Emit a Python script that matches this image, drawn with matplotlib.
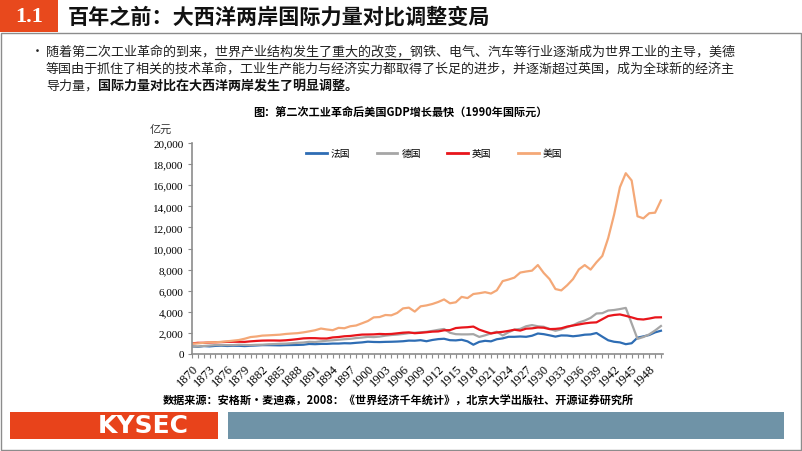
import matplotlib.pyplot as plt
from matplotlib.patches import Rectangle
from matplotlib.lines import Line2D

# data: GDP in 亿 1990 international dollars (Maddison)
years = list(range(1870, 1951))
france = [721, 680, 750, 720, 770, 790, 760, 780, 780, 750,
          780, 810, 840, 840, 830, 820, 840, 850, 860, 880,
          951, 930, 960, 960, 990, 990, 1020, 1010, 1060, 1100,
          1167, 1140, 1130, 1150, 1160, 1180, 1210, 1270, 1260, 1310,
          1210, 1330, 1410, 1445, 1310, 1290, 1350, 1200, 880, 1150,
          1250, 1200, 1400, 1480, 1630, 1630, 1660, 1630, 1730, 1942,
          1880, 1770, 1650, 1760, 1750, 1680, 1740, 1830, 1856, 1990,
          1640, 1300, 1160, 1100, 930, 1020, 1550, 1670, 1800, 2050,
          2205]
germany = [721, 710, 760, 800, 850, 850, 840, 840, 880, 860,
           840, 870, 880, 920, 940, 970, 980, 1020, 1060, 1090,
           1156, 1140, 1200, 1260, 1300, 1350, 1400, 1440, 1510, 1560,
           1623, 1600, 1650, 1740, 1800, 1840, 1900, 1980, 2020, 2060,
           2105, 2190, 2290, 2373, 2010, 1880, 1860, 1860, 1880, 1620,
           1770, 1950, 2110, 1750, 2060, 2310, 2380, 2630, 2740, 2627,
           2580, 2380, 2200, 2340, 2540, 2730, 2990, 3170, 3424, 3840,
           3870, 4120, 4170, 4260, 4370, 2900, 1434, 1610, 1860, 2230,
           2654]
uk = [1002, 1060, 1060, 1090, 1110, 1130, 1150, 1160, 1160, 1150,
      1200, 1240, 1270, 1280, 1280, 1270, 1300, 1350, 1410, 1480,
      1503, 1500, 1470, 1470, 1570, 1610, 1680, 1710, 1780, 1840,
      1849, 1860, 1900, 1880, 1900, 1960, 2020, 2050, 1970, 2010,
      2060, 2120, 2140, 2246, 2260, 2460, 2510, 2540, 2600, 2310,
      2120, 1950, 2040, 2100, 2190, 2300, 2220, 2400, 2430, 2513,
      2490, 2360, 2380, 2440, 2600, 2700, 2800, 2900, 2970, 3000,
      3300, 3600, 3700, 3750, 3620, 3470, 3310, 3270, 3360, 3470,
      3478]
usa = [984, 1007, 1061, 1113, 1112, 1149, 1203, 1264, 1326, 1450,
       1607, 1660, 1743, 1769, 1800, 1832, 1899, 1940, 1975, 2050,
       2147, 2252, 2414, 2325, 2258, 2477, 2443, 2629, 2702, 2911,
       3125, 3472, 3503, 3697, 3665, 3891, 4322, 4393, 4019, 4518,
       4605, 4740, 4929, 5174, 4807, 4902, 5415, 5299, 5686, 5760,
       5860, 5730, 6040, 6910, 7060, 7240, 7720, 7820, 7900, 8433,
       7683, 7097, 6157, 6028, 6515, 7101, 8017, 8429, 8001, 8695,
       9297, 10989, 13188, 15811, 17136, 16448, 13054, 12857, 13343, 13395,
       14559]

names = ['法国', '德国', '英国', '美国']
colors = ['#2E6DB4', '#A6A6A6', '#E8151B', '#F4A877']
series = [france, germany, uk, usa]

CJK = ['Noto Sans CJK SC', 'DejaVu Sans']
SERIF = ['Liberation Serif', 'Noto Sans CJK SC']
plt.rcParams['font.family'] = CJK

W, H = 802, 452
fig = plt.figure(figsize=(W / 100, H / 100), dpi=100)


def fx(px):
    return px / W


def fy(py):
    return 1 - py / H


red = '#E8491D'
frame = '#8C8C8C'

# header
fig.add_artist(Rectangle((0, fy(33)), fx(58), 33 / H, transform=fig.transFigure,
                         color=red, lw=0))
fig.text(fx(29), fy(17), '1.1', color='white', fontsize=16, weight='bold',
         family=SERIF, ha='center', va='center')
fig.text(fx(68), fy(17), '百年之前：大西洋两岸国际力量对比调整变局', fontsize=15.2,
         weight='bold', color='#111111', ha='left', va='center')
fig.add_artist(Rectangle((fx(0.5), fy(450.5)), fx(801) - fx(0.5), (450.5 - 33.5) / H,
                         transform=fig.transFigure, fill=False, ec=frame, lw=1))

# bullet text
renderer = fig.canvas.get_renderer()
tx = fx(46)
fs = 9.4
tcol = '#222222'
fig.text(fx(31), fy(52), '•', fontsize=fs, color=tcol, ha='left', va='center')
partA = '随着第二次工业革命的到来，'
partB = '世界产业结构发生了重大的改变，'
partC = '钢铁、电气、汽车等行业逐渐成为世界工业的主导，美德'
fig.text(tx, fy(52), partA + partB + partC, fontsize=fs, color=tcol, va='center')
ta = fig.text(tx, fy(200), partA, fontsize=fs, alpha=0)
tab = fig.text(tx, fy(200), partA + partB, fontsize=fs, alpha=0)
wa = ta.get_window_extent(renderer).width
wab = tab.get_window_extent(renderer).width
fig.add_artist(Line2D([tx + wa / W, tx + wab / W], [fy(60), fy(60)],
                      transform=fig.transFigure, color=tcol, lw=0.8))
fig.text(tx, fy(69), '等国由于抓住了相关的技术革命，工业生产能力与经济实力都取得了长足的进步，并逐渐超过英国，成为全球新的经济主',
         fontsize=fs, color=tcol, va='center')
t3 = fig.text(tx, fy(86), '导力量，', fontsize=fs, color=tcol, va='center')
w3 = t3.get_window_extent(renderer).width
fig.text(tx + w3 / W, fy(86), '国际力量对比在大西洋两岸发生了明显调整。', fontsize=fs,
         color='#111111', weight='bold', va='center')

# chart
fig.text(fx(400), fy(113), '图：第二次工业革命后美国GDP增长最快（1990年国际元）',
         fontsize=8, weight='bold', ha='center', va='center')
fig.text(fx(150), fy(130), '亿元', fontsize=8, ha='left', va='center', color='#333333')

ax = fig.add_axes([fx(192), fy(355), fx(663) - fx(192), (355 - 144) / H])
for vals, name, c in zip(series, names, colors):
    ax.plot(years, vals, color=c, lw=1.6, label=name, solid_joinstyle='round')

ax.set_xlim(1870, 1950.35)
ax.set_ylim(0, 20000)
ax.set_xticks(years)
ax.set_xticklabels([str(y) if (y - 1870) % 3 == 0 else '' for y in years],
                   rotation=45, ha='right', rotation_mode='anchor', fontsize=9,
                   family=SERIF)
ax.set_yticks(range(0, 20001, 2000))
ax.set_yticklabels([f'{v:,}' for v in range(0, 20001, 2000)], fontsize=8, family=SERIF)
ax.tick_params(axis='both', direction='out', length=3, width=0.8, color=frame, pad=3)
for s in ['top', 'right']:
    ax.spines[s].set_visible(False)
for s in ['left', 'bottom']:
    ax.spines[s].set_color(frame)
    ax.spines[s].set_linewidth(1.2)

handles = [Line2D([], [], color=c, lw=2) for c in colors]
fig.legend(handles, names, loc='center', bbox_to_anchor=(fx(434), fy(154)), ncol=4,
           frameon=False, handlelength=2.15, columnspacing=2.7, handletextpad=0.4,
           prop={'family': CJK, 'size': 7})

fig.text(fx(398), fy(401), '数据来源：安格斯·麦迪森，2008：《世界经济千年统计》，北京大学出版社、开源证券研究所',
         fontsize=8, weight='bold', ha='center', va='center')

# footer
fig.add_artist(Rectangle((fx(10), fy(440)), fx(218) - fx(10), 27 / H,
                         transform=fig.transFigure, color='#E8431B', lw=0))
fig.text(fx(143), fy(426.5), 'KYSEC', color='white', fontsize=18, weight='bold',
         family=['DejaVu Sans'], ha='center', va='center')
fig.add_artist(Rectangle((fx(228), fy(440)), fx(784) - fx(228), 27 / H,
                         transform=fig.transFigure, color='#6F93A7', lw=0))

fig.savefig('out.png', dpi=100)
